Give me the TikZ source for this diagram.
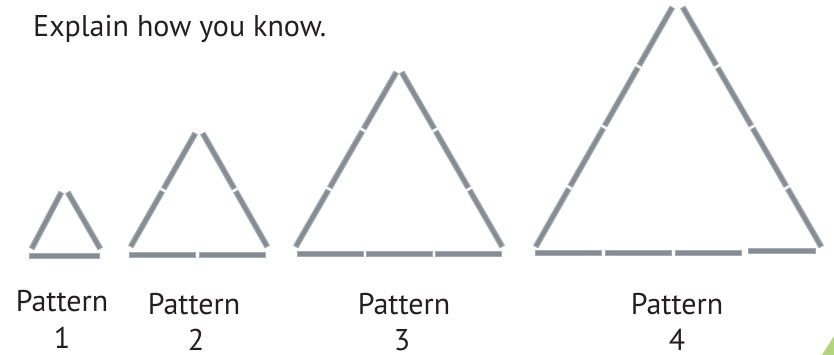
\documentclass[tikz,border=0pt]{standalone}
\usepackage{fontspec}
\setmainfont{PT Sans}
\usetikzlibrary{calc}
\definecolor{stickA}{HTML}{A5ABB1}
\definecolor{stickB}{HTML}{858C93}
\definecolor{txt}{HTML}{231F20}
\definecolor{leaf}{HTML}{B3D47C}
\newcommand\mysticks[3]{%
  \foreach \k in {1,...,#3}{%
    \draw[stickout, shorten <=1.2pt, shorten >=1.2pt] ($(#1)!{(\k-1)/#3}!(#2)$) -- ($(#1)!{\k/#3}!(#2)$);
    \draw[stickin, shorten <=2.2pt, shorten >=2.2pt] ($(#1)!{(\k-1)/#3}!(#2)$) -- ($(#1)!{\k/#3}!(#2)$);
  }}
\begin{document}
\begin{tikzpicture}[x=1pt,y=-1pt,
  stickout/.style={line width=6pt, draw=stickA},
  stickin/.style={line width=3.6pt, draw=stickB},
  lbl/.style={font=\fontsize{30}{34}\selectfont, text=txt, inner sep=0pt}]
\useasboundingbox (0,0) rectangle (834,355);
% pattern 1
\coordinate (t1a) at (62,191); \coordinate (t1b) at (67,191);
\coordinate (t1l) at (31,250); \coordinate (t1r) at (101,250);
\coordinate (t1bl) at (28,256); \coordinate (t1br) at (101,256);
\mysticks{t1l}{t1a}{1}\mysticks{t1b}{t1r}{1}\mysticks{t1bl}{t1br}{1}
% pattern 2
\coordinate (t2a) at (196,132); \coordinate (t2b) at (202,132);
\coordinate (t2l) at (130,248); \coordinate (t2r) at (268,248);
\coordinate (t2bl) at (128,255); \coordinate (t2br) at (267,255);
\mysticks{t2l}{t2a}{2}\mysticks{t2b}{t2r}{2}\mysticks{t2bl}{t2br}{2}
% pattern 3
\coordinate (t3a) at (397,71); \coordinate (t3b) at (401,71);
\coordinate (t3l) at (295,248); \coordinate (t3r) at (503,248);
\coordinate (t3bl) at (296,254); \coordinate (t3br) at (503,254);
\mysticks{t3l}{t3a}{3}\mysticks{t3b}{t3r}{3}\mysticks{t3bl}{t3br}{3}
% pattern 4
\coordinate (t4a) at (673,6); \coordinate (t4b) at (682,6);
\coordinate (t4l) at (535,248); \coordinate (t4r) at (822,248);
\coordinate (t4bl) at (534,253); \coordinate (t4br) at (743,253);
\coordinate (t4xl) at (747,251); \coordinate (t4xr) at (817,251);
\mysticks{t4l}{t4a}{4}\mysticks{t4b}{t4r}{4}\mysticks{t4bl}{t4br}{3}\mysticks{t4xl}{t4xr}{1}
% texts
\node[lbl, anchor=base west] (title) at (33,37) {Explain how you know.};
\node[lbl] (p1) at (62,301) {Pattern};
\node[lbl] (n1) at (62,338) {1};
\node[lbl] (p2) at (194,304) {Pattern};
\node[lbl] (n2) at (196,340) {2};
\node[lbl] (p3) at (404,304) {Pattern};
\node[lbl] (n3) at (402,340) {3};
\node[lbl] (p4) at (677,304) {Pattern};
\node[lbl] (n4) at (677,340) {4};
% corner decoration
\fill[leaf] (822,355) -- (834,336) -- (834,355) -- cycle;
\end{tikzpicture}
\end{document}
